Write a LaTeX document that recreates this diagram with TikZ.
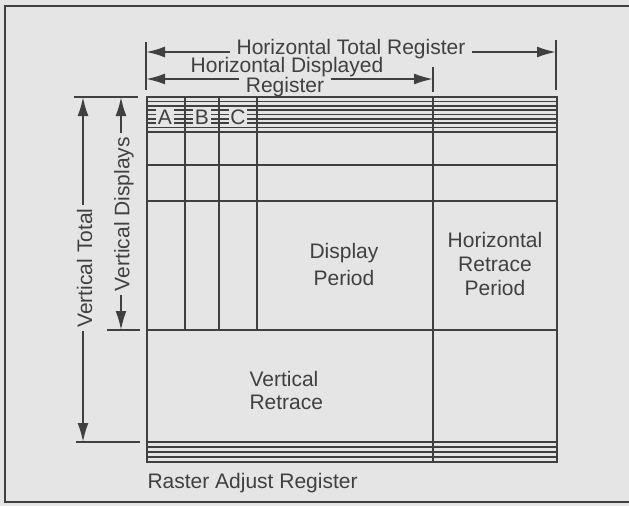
\documentclass[tikz,border=0pt]{standalone}
\usepackage{fontspec}
\setmainfont{Liberation Sans}
\usepackage{tikz}
\usetikzlibrary{arrows.meta}
\definecolor{ink}{gray}{0.25}
\definecolor{paper}{gray}{0.9}

\begin{document}
\begin{tikzpicture}[
  x=1pt, y=-1pt,
  every node/.style={font=\fontsize{21}{24}\selectfont, text=ink},
  rule/.style={draw=ink, line width=2pt},
  hatch/.style={draw=ink, line width=1.6pt},
  arr/.style={draw=ink, line width=2pt, -{Latex[length=19pt,width=11pt]}},
  cell/.style={fill=paper, inner xsep=1.5pt, inner ysep=2pt, text height=14pt, text depth=0pt},
  toplbl/.style={anchor=base, inner ysep=0pt}
]
  \useasboundingbox (0,0) rectangle (629,506);
  \fill[paper] (0,0) rectangle (629,506);
  \draw[rule] (629,6) -- (5,6) -- (5,502) -- (629,502);

  % raster grid
  \foreach \k in {0,...,8}
    \draw[hatch] (147,{97+4.375*\k}) -- (557,{97+4.375*\k});
  \foreach \k in {0,...,4}
    \draw[hatch] (147,{442+5*\k}) -- (557,{442+5*\k});
  \draw[rule] (147,97) rectangle (557,462);
  \foreach \x in {185,219,257}
    \draw[rule] (\x,97) -- (\x,330);
  \draw[rule] (433,97) -- (433,462);
  \foreach \y in {165,201,330}
    \draw[rule] (147,\y) -- (557,\y);

  \node[cell] (A) at (165,117) {A};
  \node[cell] (B) at (202,117) {B};
  \node[cell] (C) at (238,117) {C};

  % ticks
  \draw[rule] (146,42) -- (146,90);
  \draw[rule] (433,67) -- (433,92);
  \draw[rule] (556,40) -- (556,90);
  \draw[rule] (74,97) -- (138,97);
  \draw[rule] (107,330) -- (140,330);
  \draw[rule] (76,442) -- (140,442);

  \coordinate (htl) at (146,52);
  \coordinate (htr) at (556,52);
  \coordinate (hdl) at (146,79);
  \coordinate (hdr) at (433,79);
  \coordinate (vtt) at (83,97);
  \coordinate (vtb) at (83,442);
  \coordinate (vdt) at (121,97);
  \coordinate (vdb) at (121,330);

  % labels
  \node[toplbl, text depth=0pt] (htot) at (351,54) {Horizontal Total Register};
  \node[toplbl, text depth=0pt] (hdisp) at (287,72.5) {Horizontal Displayed};
  \node[toplbl, text height=13pt, text depth=0pt] (hreg) at (285,92) {Register};
  \node[rotate=90] (vtot) at (84.5,268) {Vertical Total};
  \node[rotate=90] (vdisp) at (124,214) {Vertical Displays};
  \node[align=center, font=\fontsize{21}{27}\selectfont] (disp) at (344,264) {Display\\Period};
  \node[align=center, font=\fontsize{21}{24}\selectfont] (hret) at (495,264) {Horizontal\\Retrace\\Period};
  \node[align=left, anchor=west, font=\fontsize{21}{23}\selectfont] (vret) at (246,390) {Vertical\\Retrace};
  \node[anchor=base west] (raster) at (144,488) {Raster Adjust Register};

  \draw[arr] ([xshift=-3pt]htot.west |- htl) -- (htl);
  \draw[arr] ([xshift=3pt]htot.east |- htr) -- (htr);
  \draw[arr] ([xshift=-3pt]hreg.west |- hdl) -- (hdl);
  \draw[arr] ([xshift=3pt]hreg.east |- hdr) -- (hdr);
  \draw[arr] (vtot.east -| vtt) -- (vtt);
  \draw[arr] (vtot.west -| vtb) -- (vtb);
  \draw[arr] (vdisp.east -| vdt) -- (vdt);
  \draw[arr] (vdisp.west -| vdb) -- (vdb);
\end{tikzpicture}
\end{document}
